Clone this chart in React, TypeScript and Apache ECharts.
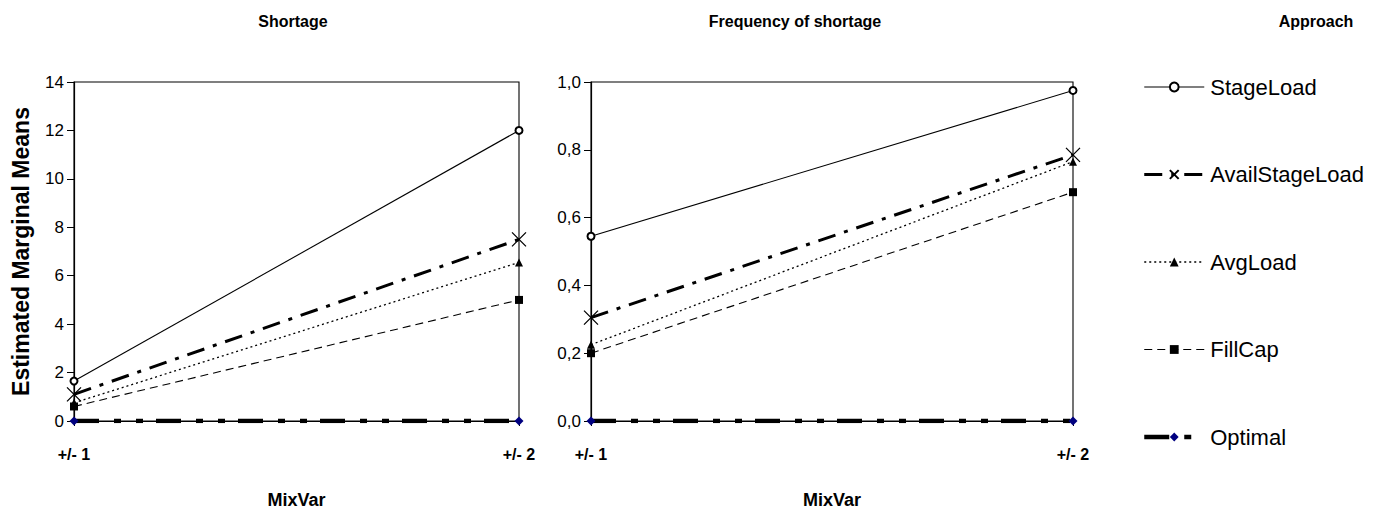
import React, { useEffect, useRef } from "react";
import * as echarts from "echarts";

const categories = ["+/- 1", "+/- 2"];
const seriesNames = ["StageLoad", "AvailStageLoad", "AvgLoad", "FillCap", "Optimal"];
const shortageStageLoad = [1.65, 12.0];
const shortageAvailStageLoad = [1.1, 7.5];
const shortageAvgLoad = [0.75, 6.55];
const shortageFillCap = [0.6, 5.0];
const shortageOptimal = [0, 0];
const freqStageLoad = [0.545, 0.975];
const freqAvailStageLoad = [0.305, 0.785];
const freqAvgLoad = [0.225, 0.765];
const freqFillCap = [0.2, 0.675];
const freqOptimal = [0, 0];

const FONT = "'Liberation Sans', Arial, sans-serif";
const CROSS = "path://M0,0L10,10M10,0L0,10";

function styleFor(name: string) {
  switch (name) {
    case "StageLoad":
      return {
        symbol: "emptyCircle",
        symbolSize: 7,
        lineStyle: { color: "#000", width: 1.1, type: "solid" },
        itemStyle: { color: "#000", borderColor: "#000", borderWidth: 1 },
      };
    case "AvailStageLoad":
      return {
        symbol: CROSS,
        symbolSize: 14,
        lineStyle: { color: "#000", width: 3, type: [18, 9, 4, 9] },
        itemStyle: { color: "none", borderColor: "#000", borderWidth: 1.3 },
      };
    case "AvgLoad":
      return {
        symbol: "triangle",
        symbolSize: 8,
        lineStyle: { color: "#000", width: 1.3, type: [2, 3] },
        itemStyle: { color: "#000", borderColor: "#000", borderWidth: 0 },
      };
    case "FillCap":
      return {
        symbol: "rect",
        symbolSize: 8,
        lineStyle: { color: "#000", width: 1.1, type: [8, 5] },
        itemStyle: { color: "#000", borderColor: "#000", borderWidth: 0 },
      };
    default:
      return {
        symbol: "diamond",
        symbolSize: 9,
        lineStyle: { color: "#000", width: 4.5, type: [25, 15, 7, 15, 7, 13] },
        itemStyle: { color: "#000080", borderColor: "#000080", borderWidth: 0 },
      };
  }
}

export default function App() {
  const ref = useRef<HTMLDivElement>(null);
  useEffect(() => {
    if (!ref.current) return;
    const chart = echarts.init(ref.current, null, { renderer: "svg" });
    const leftData = [shortageStageLoad, shortageAvailStageLoad, shortageAvgLoad, shortageFillCap, shortageOptimal];
    const rightData = [freqStageLoad, freqAvailStageLoad, freqAvgLoad, freqFillCap, freqOptimal];
    const series: any[] = [];
    seriesNames.forEach((n, i) => {
      series.push({ type: "line", name: n, xAxisIndex: 0, yAxisIndex: 0, data: leftData[i], ...styleFor(n), z: 10 - i });
    });
    seriesNames.forEach((n, i) => {
      series.push({ type: "line", name: n, xAxisIndex: 1, yAxisIndex: 1, data: rightData[i], ...styleFor(n), z: 10 - i });
    });
    const xAxisBase = (gi: number) => ({
      type: "category",
      gridIndex: gi,
      data: categories,
      boundaryGap: false,
      axisLine: { lineStyle: { color: "#000", width: 1.2 } },
      axisTick: { show: true, length: 5, lineStyle: { color: "#000" } },
      axisLabel: { color: "#000", fontFamily: FONT, fontWeight: "bold", fontSize: 16, margin: 25 },
      name: "MixVar",
      nameLocation: "middle",
      nameGap: 70,
      nameTextStyle: { color: "#000", fontFamily: FONT, fontWeight: "bold", fontSize: 18 },
      splitLine: { show: false },
    });
    const titleStyle = { fontFamily: FONT, fontWeight: "bold", fontSize: 16, color: "#000" };
    const legendData = seriesNames.map((n) => ({
      name: n,
      lineStyle: { width: (styleFor(n).lineStyle as any).width },
    }));
    const option: any = {
      animation: false,
      backgroundColor: "#fff",
      title: [
        { text: "Shortage", left: 285, top: 5, padding: 0, textAlign: "center", textStyle: titleStyle },
        { text: "Frequency of shortage", left: 787, top: 5, padding: 0, textAlign: "center", textStyle: titleStyle },
        { text: "Approach", left: 1308, top: 5, padding: 0, textAlign: "center", textStyle: titleStyle },
      ],
      grid: [
        { left: 59, top: 74, width: 452, height: 350, show: true, borderColor: "#000", borderWidth: 1.1, backgroundColor: "transparent" },
        { left: 583, top: 74, width: 482, height: 350, show: true, borderColor: "#000", borderWidth: 1.1, backgroundColor: "transparent" },
      ],
      xAxis: [xAxisBase(0), xAxisBase(1)],
      yAxis: [
        {
          type: "value",
          gridIndex: 0,
          min: 0,
          max: 14,
          interval: 2,
          axisLine: { show: true, lineStyle: { color: "#000", width: 1.2 } },
          axisTick: { show: true, length: 7, lineStyle: { color: "#000" } },
          axisLabel: { color: "#000", fontFamily: FONT, fontSize: 17, margin: 10 },
          splitLine: { show: false },
          name: "Estimated Marginal Means",
          nameLocation: "middle",
          nameGap: 42,
          nameTextStyle: { color: "#000", fontFamily: FONT, fontWeight: "bold", fontSize: 23 },
        },
        {
          type: "value",
          gridIndex: 1,
          min: 0,
          max: 1,
          interval: 0.2,
          axisLine: { show: true, lineStyle: { color: "#000", width: 1.2 } },
          axisTick: { show: true, length: 7, lineStyle: { color: "#000" } },
          axisLabel: {
            color: "#000",
            fontFamily: FONT,
            fontSize: 17,
            margin: 10,
            formatter: (v: number) => v.toFixed(1).replace(".", ","),
          },
          splitLine: { show: false },
        },
      ],
      legend: {
        orient: "vertical",
        left: 1134,
        top: 68,
        itemWidth: 60,
        itemHeight: 11,
        itemGap: 65.5,
        padding: 0,
        selectedMode: false,
        data: legendData,
        textStyle: { fontFamily: FONT, fontSize: 22, color: "#000", lineHeight: 22, padding: [0, 0, 0, 1] },
      },
      series,
    };
    chart.setOption(option);
    return () => chart.dispose();
  }, []);
  return <div ref={ref} style={{ width: 1364, height: 506 }} />;
}
